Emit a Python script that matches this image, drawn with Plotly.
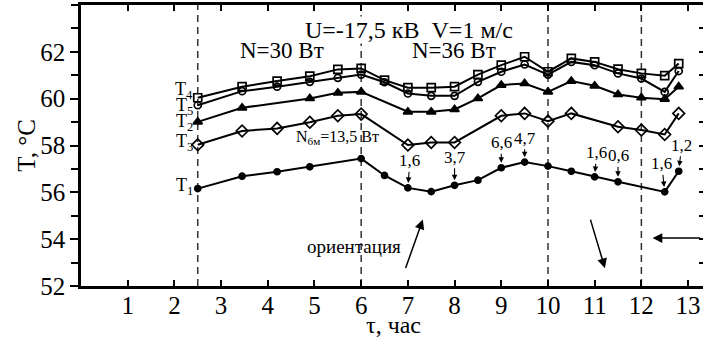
import plotly.graph_objects as go

# ---------------- data ----------------
x_T4 = [2.5, 3.45, 4.2, 4.9, 5.5, 6.0, 6.5, 7.0, 7.5, 8.0, 8.5, 9.0, 9.5, 10.0, 10.5, 11.0, 11.5, 12.0, 12.5, 12.8]
T4 = [60.04, 60.51, 60.75, 60.96, 61.25, 61.29, 60.79, 60.47, 60.47, 60.51, 61.03, 61.43, 61.79, 61.15, 61.72, 61.57, 61.26, 61.08, 60.98, 61.50]
x_T5 = [2.5, 3.45, 4.2, 4.9, 5.5, 6.0, 6.5, 7.0, 7.5, 8.0, 8.5, 9.0, 9.5, 10.0, 10.5, 11.0, 11.5, 12.0, 12.5, 12.8]
T5 = [59.72, 60.32, 60.51, 60.72, 60.89, 61.03, 60.70, 60.22, 60.12, 60.12, 60.72, 61.15, 61.46, 61.03, 61.57, 61.43, 61.08, 60.86, 60.29, 61.18]
x_T2 = [2.5, 3.45, 4.9, 5.5, 6.0, 7.0, 7.5, 8.0, 8.5, 9.0, 9.5, 10.0, 10.5, 11.0, 11.5, 12.0, 12.5, 12.8]
T2 = [59.01, 59.61, 60.01, 60.25, 60.29, 59.44, 59.44, 59.54, 60.01, 60.58, 60.65, 60.29, 60.75, 60.55, 60.18, 60.04, 59.98, 60.51]
x_T3 = [2.5, 3.45, 4.2, 4.9, 5.5, 6.0, 7.0, 7.5, 8.0, 9.0, 9.5, 10.0, 10.5, 11.5, 12.0, 12.5, 12.8]
T3 = [58.03, 58.62, 58.73, 58.99, 59.27, 59.34, 58.02, 58.13, 58.13, 59.27, 59.37, 59.04, 59.37, 58.80, 58.66, 58.47, 59.37]
x_T1 = [2.5, 3.45, 4.2, 4.9, 6.0, 6.5, 7.0, 7.5, 8.0, 8.5, 9.0, 9.5, 10.0, 10.5, 11.0, 11.5, 12.5, 12.8]
T1 = [56.16, 56.69, 56.88, 57.09, 57.44, 56.72, 56.19, 56.03, 56.30, 56.52, 57.05, 57.29, 57.12, 56.90, 56.66, 56.45, 56.02, 56.90]

# pointer labels on T1 curve: (x, text)
ptr_x = [7.0, 8.0, 9.0, 9.5, 11.0, 11.5, 12.5, 12.8]
ptr_text = ["1,6", "3,7", "6,6", "4,7", "1,6", "0,6", "1,6", "1,2"]

vlines_x = [2.5, 6.0, 10.0, 12.0]
x_ticks = list(range(1, 14))
y_ticks = [52, 54, 56, 58, 60, 62]

FONT = "Liberation Serif, Times New Roman, serif"

series = [
    ("T4", x_T4, T4, "square-open", 8, 7),
    ("T5", x_T5, T5, "circle-open", 7, -1),
    ("T2", x_T2, T2, "triangle-up", 8, -1),
    ("T3", x_T3, T3, "diamond-open", 9, 2),
    ("T1", x_T1, T1, "circle", 6, 2),
]

fig = go.Figure()
for name, xs, ys, sym, sz, _ in series:
    fig.add_trace(go.Scatter(
        x=xs, y=ys, mode="lines+markers", name=name,
        line=dict(color="black", width=2),
        marker=dict(symbol=sym, size=sz, color="black", line=dict(color="black", width=1.7)),
        showlegend=False))

# invisible trace to activate right-hand tick axis
fig.add_trace(go.Scatter(x=[None], y=[None], yaxis="y2", showlegend=False, hoverinfo="skip"))

for xv in vlines_x:
    fig.add_shape(type="line", xref="x", yref="paper", x0=xv, x1=xv, y0=0, y1=1,
                  line=dict(color="#333", width=1.5, dash="7px,5px"), layer="below")

C = dict(xanchor="center", yanchor="middle")
ann = []
# series labels
for name, xs, ys, sym, sz, ysh in series:
    ann.append(dict(x=xs[0], y=ys[0], xref="x", yref="y", text="T<sub>%s</sub>" % name[1],
                    showarrow=False, xanchor="right", yanchor="middle", xshift=-3, yshift=ysh,
                    font=dict(family=FONT, size=18, color="black")))

# pointers on T1
ptr_off = {7.0: (2, -27), 8.0: (0, -28), 9.0: (0, -25), 9.5: (0, -24), 11.0: (2, -24),
           11.5: (0, -26), 12.5: (-3, -28), 12.8: (3, -26)}
for xv, t in zip(ptr_x, ptr_text):
    yv = T1[x_T1.index(xv)]
    ax, ay = ptr_off[xv]
    ann.append(dict(x=xv, y=yv, xref="x", yref="y", text=t, showarrow=True,
                    ax=ax, ay=ay, arrowhead=2, arrowsize=1, arrowwidth=1.1, standoff=5,
                    arrowcolor="black", font=dict(family=FONT, size=17, color="black")))

# N6м label and its arrow to T1 at x=6
ann.append(dict(x=5.5, y=58.35, xref="x", yref="y", text="N<sub>6м</sub>=13,5 Вт",
                showarrow=False, font=dict(family=FONT, size=16, color="black"), **C))
ann.append(dict(x=6.0, y=T1[x_T1.index(6.0)], xref="x", yref="y", text=" ", showarrow=True,
                ax=0, ay=-14, arrowhead=2, arrowsize=1, arrowwidth=1.1, standoff=3,
                arrowcolor="black"))

# header texts
ann.append(dict(x=7.03, y=62.95, xref="x", yref="y",
                text="U=-17,5 кВ\u00a0\u00a0V=1 м/с", showarrow=False, bgcolor="white",
                borderpad=0, font=dict(family=FONT, size=24, color="black"), **C))
ann.append(dict(x=4.3, y=62.05, xref="x", yref="y", text="N=30 Вт", showarrow=False,
                font=dict(family=FONT, size=23, color="black"), **C))
ann.append(dict(x=7.99, y=62.05, xref="x", yref="y", text="N=36 Вт", showarrow=False,
                font=dict(family=FONT, size=23, color="black"), **C))

# orientation text and arrows
ann.append(dict(x=5.85, y=53.68, xref="x", yref="y", text="ориентация", showarrow=False,
                font=dict(family=FONT, size=19, color="black"), **C))
for (hx, hy, tx, ty) in [(7.32, 54.84, 6.94, 52.7), (11.22, 52.76, 10.9, 54.9), (12.24, 54.05, 13.29, 54.05)]:
    ann.append(dict(x=hx, y=hy, xref="x", yref="y", ax=tx, ay=ty, axref="x", ayref="y",
                    text="", showarrow=True, arrowhead=2, arrowsize=1.3, arrowwidth=1.5,
                    arrowcolor="black"))

# axis titles
ann.append(dict(x=-0.088, y=0.5, xref="paper", yref="paper", text="T, °C", textangle=-90,
                showarrow=False, font=dict(family=FONT, size=25, color="black"), **C))
ann.append(dict(x=0.502, y=-0.138, xref="paper", yref="paper", text="τ, час",
                showarrow=False, font=dict(family=FONT, size=24, color="black"), **C))

fig.update_layout(
    width=703, height=338,
    margin=dict(l=81, r=0, t=5, b=52),
    paper_bgcolor="white", plot_bgcolor="white",
    font=dict(family=FONT, size=24, color="black"),
    annotations=ann,
    xaxis=dict(range=[0, 13.32], tickvals=x_ticks, ticks="inside", ticklen=6, tickwidth=2,
               tickcolor="black", showline=True, linecolor="black", linewidth=2.5,
               mirror="ticks", showgrid=False, zeroline=False, ticklabelstandoff=-5,
               tickfont=dict(family=FONT, size=25, color="black")),
    yaxis=dict(range=[52, 64], tickvals=y_ticks, ticks="outside", ticklen=8, tickwidth=2,
               tickcolor="black", showline=True, linecolor="black", linewidth=2.5,
               showgrid=False, zeroline=False,
               minor=dict(dtick=1, tick0=52, ticks="outside", ticklen=7, tickwidth=2, tickcolor="black", showgrid=False),
               tickfont=dict(family=FONT, size=25, color="black")),
    yaxis2=dict(range=[52, 64], overlaying="y", side="right", anchor="x",
                tickvals=list(range(52, 65)), ticks="inside", ticklen=4, tickwidth=2,
                tickcolor="black", showticklabels=False, showline=False, showgrid=False,
                zeroline=False),
)

fig.write_html("out.html")
